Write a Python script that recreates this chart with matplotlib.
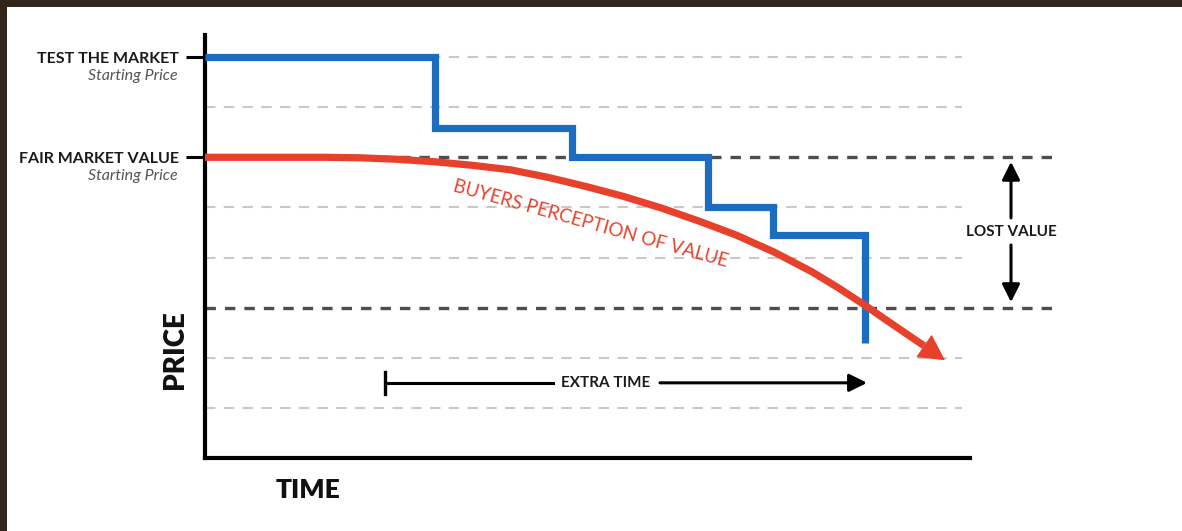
import matplotlib.pyplot as plt
from matplotlib.patches import Rectangle

plt.rcParams['lines.scale_dashes'] = False
plt.rcParams['font.family'] = ['Lato', 'DejaVu Sans']

# datos (x = tiempo, y = precio, unidades de la rejilla)
step_x = [0, 4.6, 7.34, 10.06, 11.36, 13.2]
step_y = [8, 6.59, 6.0, 5.0, 4.45, 2.3]
curve_x = [0, 2.4, 3.1, 3.85, 4.6, 5.35, 6.11, 6.86, 7.61, 8.37, 9.12, 9.87, 10.62,
           11.38, 12.13, 12.66, 13.18, 13.6, 14.01, 14.38]
curve_y = [6.0, 6.0, 5.99, 5.96, 5.91, 5.84, 5.75, 5.6, 5.42, 5.22, 4.99, 4.73, 4.45,
           4.11, 3.72, 3.40, 3.06, 2.77, 2.49, 2.24]
curve_tip = (14.8, 1.95)
grid_light = [1, 2, 4, 5, 7, 8]
grid_dark = [3, 6]
tick_levels = [6, 8]
tick_names = ['FAIR MARKET VALUE', 'TEST THE MARKET']
extra_time = (3.6, 13.24, 1.5)
lost_value = (16.12, 3.11, 5.91)

blue = '#1c6dbf'
red = '#e8412b'

fig = plt.figure(figsize=(11.82, 5.31), dpi=100, facecolor='#2f2519')
fig.patches.append(Rectangle((7 / 1182, 0), 1, 1 - 7 / 531, transform=fig.transFigure,
                             facecolor='white', edgecolor='none', zorder=-10))
ax = fig.add_axes([205 / 1182, 73 / 531, 765 / 1182, 423 / 531])
ax.set_facecolor('none')
ax.set_xlim(0, 15.3)
ax.set_ylim(0, 8.44)

# rejilla
for lv in grid_light:
    ax.plot([0, 15.14], [lv, lv], color='#c9c9c9', lw=1.5, dashes=(7.5, 6), zorder=1)
for lv in grid_dark:
    ax.plot([0, 17.06], [lv, lv], color='#4d4d4d', lw=2.4, dashes=(7.5, 6.5), zorder=1,
            clip_on=False)

# precio "test the market"
ax.plot(step_x, step_y, drawstyle='steps-post', color=blue, lw=5.2,
        solid_joinstyle='miter', solid_capstyle='butt', zorder=3)

# percepcion del comprador
ax.plot(curve_x, curve_y, color=red, lw=5.2, solid_capstyle='butt',
        solid_joinstyle='round', zorder=4)
ax.annotate('', xy=curve_tip, xytext=(curve_x[-3], curve_y[-3]),
            arrowprops=dict(arrowstyle='-|>,head_length=0.6,head_width=0.32',
                            mutation_scale=28, color=red, lw=1,
                            shrinkA=0, shrinkB=0), zorder=4)
ax.text(7.72, 4.67, 'BUYERS PERCEPTION OF VALUE', color=red, fontsize=13.5,
        rotation=-15.5, ha='center', va='center', rotation_mode='anchor', zorder=5)

# extra time
x0, x1, yl = extra_time
ax.plot([x0, x0], [yl - 0.22, yl + 0.22], color='black', lw=2.4, zorder=3)
ax.plot([x0, 6.96], [yl, yl], color='black', lw=2.2, zorder=3)
ax.annotate('', xy=(x1, yl), xytext=(9.1, yl),
            arrowprops=dict(arrowstyle='-|>,head_length=0.6,head_width=0.3',
                            mutation_scale=18, color='black', lw=2.2,
                            shrinkA=0, shrinkB=0))
ax.text(8.02, yl, 'EXTRA TIME', fontsize=11, fontweight='bold', ha='center',
        va='center', color='#1a1a1a')

# lost value
lx, lo, hi = lost_value
ax.annotate('', xy=(lx, hi), xytext=(lx, 4.79), annotation_clip=False,
            arrowprops=dict(arrowstyle='-|>,head_length=0.6,head_width=0.3',
                            mutation_scale=18, color='black', lw=2.2,
                            shrinkA=0, shrinkB=0))
ax.annotate('', xy=(lx, lo), xytext=(lx, 4.25), annotation_clip=False,
            arrowprops=dict(arrowstyle='-|>,head_length=0.6,head_width=0.3',
                            mutation_scale=18, color='black', lw=2.2,
                            shrinkA=0, shrinkB=0))
ax.text(lx, 4.51, 'LOST VALUE', fontsize=11, fontweight='bold', ha='center',
        va='center', color='#1a1a1a', clip_on=False)

# ejes
for s in ['top', 'right']:
    ax.spines[s].set_visible(False)
for s in ['left', 'bottom']:
    ax.spines[s].set_linewidth(3)
    ax.spines[s].set_color('black')
ax.set_xticks([])
ax.set_yticks(tick_levels)
ax.set_yticklabels(tick_names, fontsize=11.5, fontweight='bold', color='#1a1a1a')
ax.tick_params(axis='y', length=14, width=2.2, pad=5)
for lv in tick_levels:
    ax.annotate('Starting Price', xy=(0, lv), xycoords=ax.get_yaxis_transform(),
                xytext=(-27, -19), textcoords='offset pixels', ha='right', va='center',
                fontsize=11.5, fontstyle='italic', color='#555555')

fig.text(175 / 1182, 1 - 350 / 531, 'PRICE', rotation=90, fontsize=20, fontweight='heavy',
         ha='center', va='center', color='#111111')
fig.text(308 / 1182, 1 - 490 / 531, 'TIME', fontsize=19, fontweight='heavy',
         ha='center', va='center', color='#111111')

fig.savefig('out.png', dpi=100, facecolor=fig.get_facecolor())
